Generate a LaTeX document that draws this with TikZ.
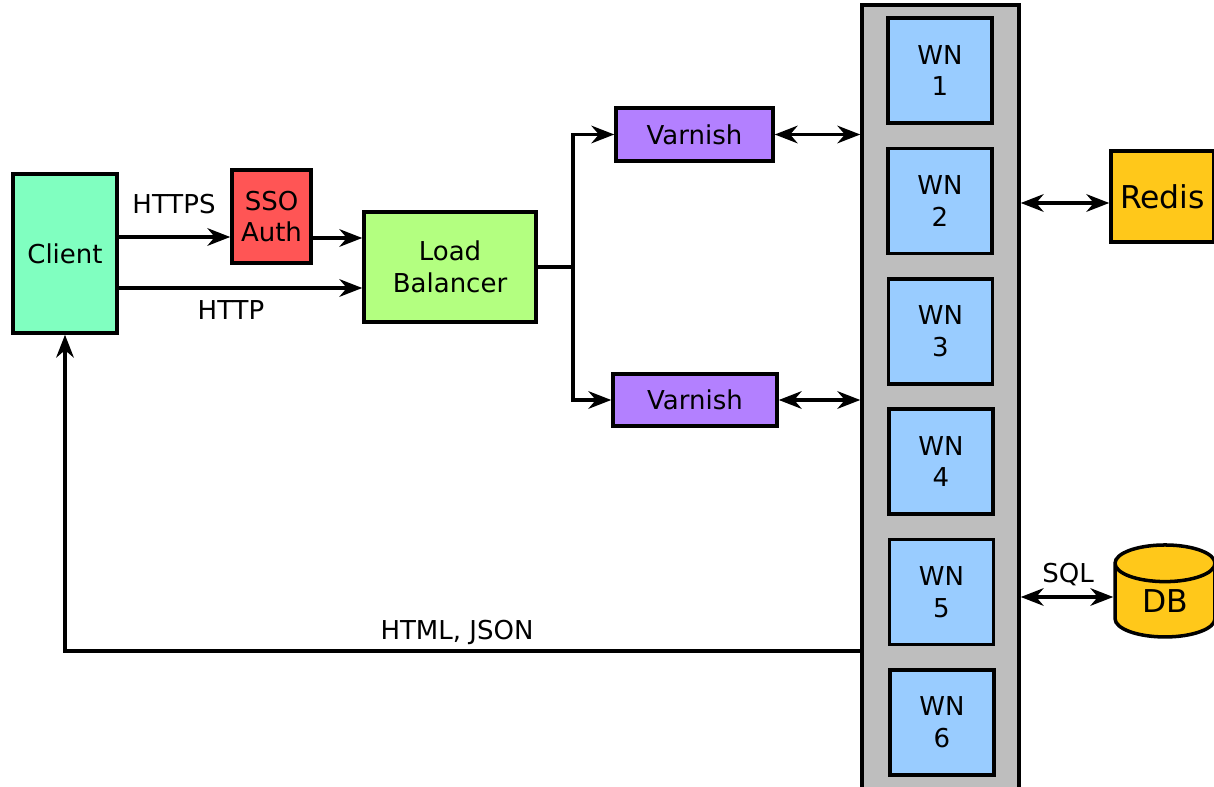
\documentclass[tikz,border=0pt]{standalone}
\usepackage{fontspec}
\setmainfont{DejaVu Sans}
\usetikzlibrary{arrows.meta, shapes.geometric, positioning}
\tikzset{>={Stealth[length=13pt,width=10pt]}}
\definecolor{clientc}{HTML}{80FFC0}
\definecolor{ssoc}{HTML}{FF5555}
\definecolor{lbc}{HTML}{B3FF80}
\definecolor{varnc}{HTML}{B380FF}
\definecolor{wnc}{HTML}{99CCFF}
\definecolor{colc}{HTML}{BEBEBE}
\definecolor{storec}{HTML}{FFC81A}
\tikzset{
  unit/.style={draw, line width=2pt, inner sep=0pt, align=center},
  wn/.style={unit, fill=wnc, minimum width=2.08cm, minimum height=2.1cm},
  link/.style={line width=2pt},
  lbl/.style={inner sep=0pt}
}

\begin{document}
\begin{tikzpicture}[x=0.02cm, y=-0.02cm, font=\fontsize{14.8pt}{18pt}\selectfont]
\useasboundingbox (0,0) rectangle (1214,787);
\node[unit, fill=clientc, minimum width=2.08cm, minimum height=3.18cm] (C) at (65,253.5) {Client};
\node[unit, fill=ssoc, minimum width=1.58cm, minimum height=1.86cm] (S) at (271.5,216.5) {SSO\\Auth};
\node[unit, fill=lbc, minimum width=3.44cm, minimum height=2.2cm] (L) at (450,267) {Load\\Balancer};
\node[unit, fill=varnc, minimum width=3.14cm, minimum height=1.06cm] (V1) at (694.5,134.5) {Varnish};
\node[unit, fill=varnc, minimum width=3.28cm, minimum height=1.04cm] (V2) at (695,400) {Varnish};
% worker nodes
\node[unit, fill=colc, minimum width=3.14cm, minimum height=15.8cm] (G) at (940.5,400) {};
\node[wn] (W1) at (940,70.5) {WN\\1};
\node[wn] (W2) at (940,201) {WN\\2};
\node[wn] (W3) at (940.5,331.5) {WN\\3};
\node[wn] (W4) at (941,461.5) {WN\\4};
\node[wn] (W5) at (941.5,592) {WN\\5};
\node[wn] (W6) at (942,722.5) {WN\\6};
% stores
\node[unit, fill=storec, minimum width=2.06cm, minimum height=1.82cm, font=\fontsize{17.9pt}{21pt}\selectfont] (R) at (1162.5,196.5) {Redis};
\node[cylinder, shape border rotate=90, aspect=0.8, draw, line width=2pt, fill=storec, minimum width=2cm, minimum height=1.84cm, inner sep=0pt, font=\fontsize{17.9pt}{21pt}\selectfont] (D) at (1165,601) {DB};
% labels
\node[lbl] (T1) at (174,204) {HTTPS};
\node[lbl] (T2) at (231,310) {HTTP};
\node[lbl] (T3) at (457,632) {HTML, JSON};
\node[lbl] (T4) at (1068,575) {SQL};
% connectors
\draw[->, link] (C.east |- 0,237) -- (S.west |- 0,237);
\draw[->, link] (S.east |- 0,238) -- (L.west |- 0,238);
\draw[->, link] (C.east |- 0,288) -- (L.west |- 0,288);
\coordinate (B) at (573,267);
\draw[link] (L.east) -- (B);
\draw[->, link] (B) |- (V1.west);
\draw[->, link] (B) |- (V2.west);
\draw[<->, link] (V1.east) -- (G.west |- V1.east);
\draw[<->, link] (V2.east) -- (G.west |- V2.east);
\draw[<->, link] (G.east |- 0,203) -- (R.west |- 0,203);
\draw[<->, link] (G.east |- 0,597) -- (D.west |- 0,597);
\draw[->, link] (G.west |- 0,651) -| (C.south);
\end{tikzpicture}
\end{document}
